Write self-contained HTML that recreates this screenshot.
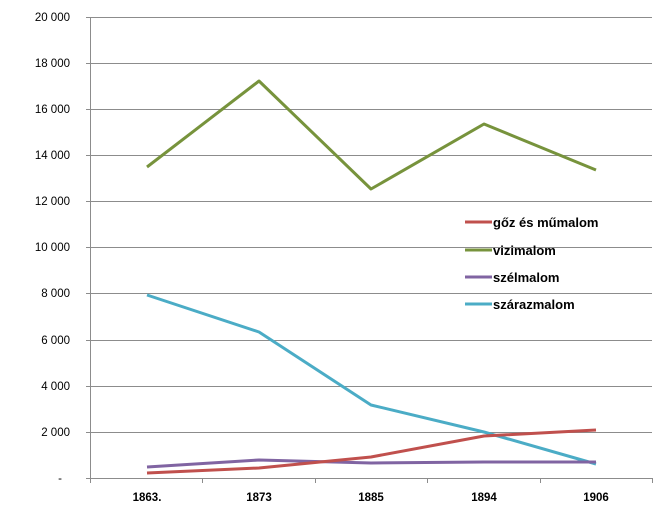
<!DOCTYPE html>
<html><head><meta charset="utf-8"><style>body{margin:0;background:#fff}svg{display:block}</style></head><body>
<svg width="665" height="532" xmlns="http://www.w3.org/2000/svg" font-family="Liberation Sans, sans-serif">
<g stroke="#8c8c8c" stroke-width="1">
<line x1="86" y1="17.5" x2="652" y2="17.5"/>
<line x1="86" y1="63.5" x2="652" y2="63.5"/>
<line x1="86" y1="109.5" x2="652" y2="109.5"/>
<line x1="86" y1="155.5" x2="652" y2="155.5"/>
<line x1="86" y1="201.5" x2="652" y2="201.5"/>
<line x1="86" y1="247.5" x2="652" y2="247.5"/>
<line x1="86" y1="293.5" x2="652" y2="293.5"/>
<line x1="86" y1="340.5" x2="652" y2="340.5"/>
<line x1="86" y1="386.5" x2="652" y2="386.5"/>
<line x1="86" y1="432.5" x2="652" y2="432.5"/>
<line x1="86" y1="478.5" x2="652" y2="478.5"/>
<line x1="90.5" y1="17" x2="90.5" y2="483"/>
<line x1="202.5" y1="478" x2="202.5" y2="483"/>
<line x1="315.5" y1="478" x2="315.5" y2="483"/>
<line x1="427.5" y1="478" x2="427.5" y2="483"/>
<line x1="540.5" y1="478" x2="540.5" y2="483"/>
<line x1="652.5" y1="478" x2="652.5" y2="483"/>
</g>
<g font-size="11.5" fill="#000" text-anchor="end">
<text x="70" y="21">20 000</text><text x="70" y="67">18 000</text><text x="70" y="113">16 000</text>
<text x="70" y="159">14 000</text><text x="70" y="205">12 000</text><text x="70" y="251">10 000</text>
<text x="70" y="297">8 000</text><text x="70" y="344">6 000</text><text x="70" y="390">4 000</text>
<text x="70" y="436">2 000</text><text x="62" y="482">-</text>
</g>
<g font-size="11.5" font-weight="bold" text-anchor="middle">
<text x="147" y="501">1863.</text><text x="259" y="501">1873</text><text x="371" y="501">1885</text>
<text x="484" y="501">1894</text><text x="596" y="501">1906</text>
</g>
<g fill="none" stroke-width="3" stroke-linejoin="round">
<polyline stroke="#4bacc6" points="147,295 259,332 371,405 484,432 596,464"/>
<polyline stroke="#8064a2" points="147,467 259,460 371,463 484,462 596,462"/>
<polyline stroke="#c0504d" points="147,473 259,468 371,457 484,436 596,430"/>
<polyline stroke="#77933c" points="147,167 259,81 371,189 484,124 596,170"/>
</g>
<g stroke-width="3">
<line x1="465" y1="222" x2="492" y2="222" stroke="#c0504d"/>
<line x1="465" y1="250" x2="492" y2="250" stroke="#77933c"/>
<line x1="465" y1="277" x2="492" y2="277" stroke="#8064a2"/>
<line x1="465" y1="304" x2="492" y2="304" stroke="#4bacc6"/>
</g>
<g font-size="13" font-weight="bold">
<text x="493" y="227">gőz és műmalom</text>
<text x="493" y="255">vizimalom</text>
<text x="493" y="282">szélmalom</text>
<text x="493" y="309">szárazmalom</text>
</g>
</svg>
</body></html>
